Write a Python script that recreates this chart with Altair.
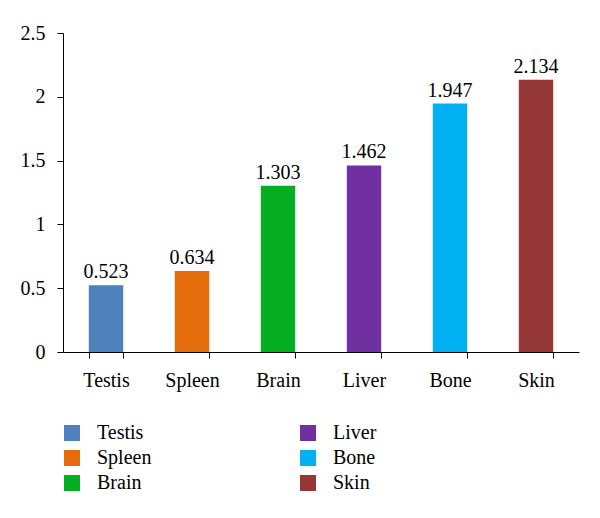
import altair as alt
import pandas as pd

tissues = ["Testis", "Spleen", "Brain", "Liver", "Bone", "Skin"]
values = [0.523, 0.634, 1.303, 1.462, 1.947, 2.134]
colors = ["#4F81BD", "#E46C0A", "#06AE22", "#7030A0", "#00B0F0", "#953735"]
labels = ["0.523", "0.634", "1.303", "1.462", "1.947", "2.134"]
y_ticks = [0, 0.5, 1, 1.5, 2, 2.5]

df = pd.DataFrame({"tissue": tissues, "value": values, "label": labels})

FONT = "Liberation Serif"
FS = 20

base = alt.Chart(df).encode(
    x=alt.X("tissue:N", sort=tissues, title=None,
            scale=alt.Scale(paddingInner=0.6, paddingOuter=0.3),
            axis=alt.Axis(labelAngle=0, tickBand="extent", domainColor="black",
                          tickColor="black", tickSize=6, labelFontSize=FS,
                          labelColor="black", labelPadding=12, labelFont=FONT)),
)

bars = base.mark_bar().encode(
    y=alt.Y("value:Q", title=None, scale=alt.Scale(domain=[0, 2.5], nice=False),
            axis=alt.Axis(values=y_ticks, format="~g", grid=False, domainColor="black",
                          tickColor="black", tickSize=6, labelFontSize=FS,
                          labelColor="black", labelPadding=12, labelFont=FONT)),
    color=alt.Color("tissue:N", title=None,
                    scale=alt.Scale(domain=tissues, range=colors),
                    legend=alt.Legend(orient="none", legendX=-1, legendY=390,
                                      columns=2,
                                      symbolType="square", symbolSize=256,
                                      symbolStrokeWidth=0, labelFontSize=FS,
                                      labelFont=FONT, labelColor="black",
                                      labelOffset=15, rowPadding=5,
                                      columnPadding=146)),
)

text = base.mark_text(baseline="bottom", dy=-3, fontSize=FS, font=FONT, color="black").encode(
    y=alt.Y("value:Q"),
    text="label:N",
)

chart = (bars + text).properties(
    width=516, height=319,
    autosize=alt.AutoSizeParams(type="none"),
    padding={"left": 55, "top": 25, "right": 10, "bottom": 140},
).configure(font=FONT).configure_view(stroke=None)

chart.save("out.html", embed_options={"renderer": "svg", "actions": False})
